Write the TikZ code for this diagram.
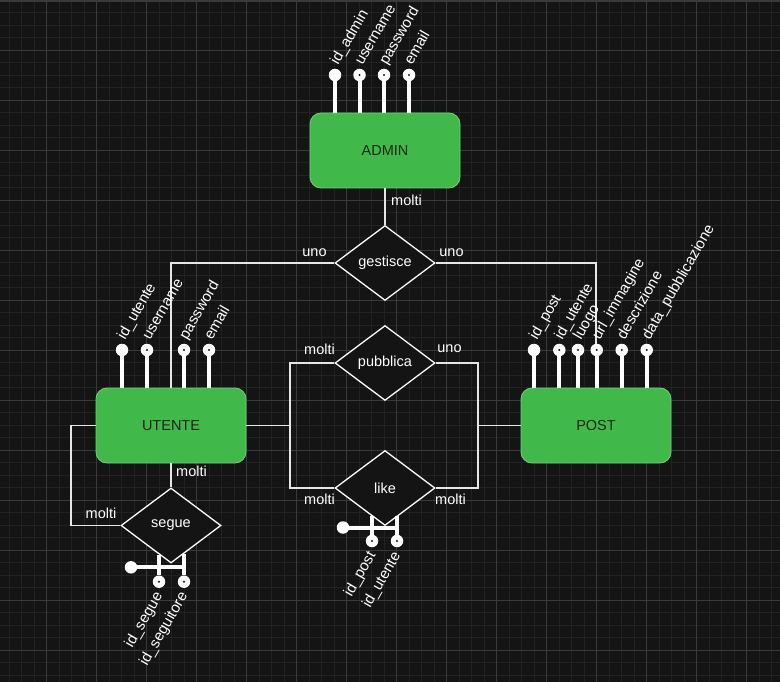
\documentclass[tikz,border=0pt]{standalone}
\usepackage{fontspec}
\setmainfont{Liberation Sans}
\usetikzlibrary{shapes.geometric}
\definecolor{bg}{HTML}{141414}
\definecolor{gminor}{HTML}{222222}
\definecolor{gmajor}{HTML}{3A3A3A}
\definecolor{entfill}{HTML}{41B94A}
\definecolor{entborder}{HTML}{74D07A}
\definecolor{enttext}{HTML}{142814}
\definecolor{conncol}{HTML}{E6E6E6}
\begin{document}
\begin{tikzpicture}[x=1pt,y=-1pt,
  entity/.style={draw=entborder, fill=entfill, rounded corners=11pt, minimum width=150pt, minimum height=75pt, inner sep=0pt, text=enttext, font=\fontsize{14.5}{17}\selectfont, line width=0.8pt},
  rel/.style={diamond, draw=white, fill=bg, line width=1.3pt, minimum width=100pt, minimum height=75pt, inner sep=0pt, text=white, font=\fontsize{14.5}{17}\selectfont},
  conn/.style={draw=conncol, line width=1.4pt},
  stem/.style={draw=white, line width=4pt},
  keyc/.style={circle, fill=white, minimum size=12.5pt, inner sep=0pt},
  attrc/.style={circle, fill=white, minimum size=12.5pt, inner sep=0pt, path picture={\fill[bg] (path picture bounding box.center) circle (1.1pt);}},
  card/.style={text=white, font=\fontsize{14.5}{17}\selectfont, inner sep=0pt},
  alab/.style={text=white, font=\fontsize{15}{17}\selectfont, inner sep=0pt, rotate=60, anchor=base west},
  blab/.style={text=white, font=\fontsize{15}{17}\selectfont, inner sep=0pt, rotate=60, anchor=base east}
]
% background and grid
\fill[bg] (0,0) rectangle (780,682);
\useasboundingbox (0,0) rectangle (780,682);
\foreach \i in {0,...,62} {
  \draw[gminor, line width=0.8pt] ({9.2+12.5*\i},0) -- ({9.2+12.5*\i},682);
}
\foreach \i in {0,...,55} {
  \draw[gminor, line width=0.8pt] (0,{12.5*\i}) -- (780,{12.5*\i});
}
\foreach \i in {0,...,15} {
  \draw[gmajor, line width=0.9pt] ({46.7+50*\i},0) -- ({46.7+50*\i},682);
}
\foreach \i in {1,...,13} {
  \draw[gmajor, line width=0.9pt] (0,{50*\i}) -- (780,{50*\i});
}
\fill[gmajor] (0,0) rectangle (780,2);

% relationships
\node[rel] (gestisce) at (385,263) {gestisce};
\node[rel] (pubblica) at (385,363) {pubblica};
\node[rel] (like) at (385,488) {like};
\node[rel] (segue) at (171,525.5) {segue};

% entities
\node[entity] (admin) at (385,150.5) {ADMIN};
\node[entity] (utente) at (171,425.5) {UTENTE};
\node[entity] (post) at (596,425.5) {POST};

% connectors
\coordinate (jl) at (290,425.5);
\coordinate (jr) at (478,425.5);
\coordinate (js) at (71,425.5);
\draw[conn] (admin.south) -- (gestisce.north);
\draw[conn] (gestisce.west) -| (utente.north);
\draw[conn] (gestisce.east) -| (post.north);
\draw[conn] (pubblica.west) -| (jl) |- (like.west);
\draw[conn] (utente.east) -- (jl);
\draw[conn] (pubblica.east) -| (jr) |- (like.east);
\draw[conn] (post.west) -- (jr);
\draw[conn] (utente.south) -- (segue.north);
\draw[conn] (segue.west) -| (js) -- (utente.west);

% cardinalities
\node[card, anchor=west] (c1) at (391,200) {molti};
\node[card] (c2) at (314.5,253) {uno};
\node[card] (c3) at (451.5,253) {uno};
\node[card] (c4) at (319.5,349) {molti};
\node[card] (c5) at (449.5,349) {uno};
\node[card] (c6) at (319.5,499.5) {molti};
\node[card] (c7) at (450.5,499.5) {molti};
\node[card] (c8) at (191.5,471.5) {molti};
\node[card] (c9) at (101,513) {molti};

% ADMIN attributes
\foreach \n/\x/\s/\t in {aa1/335/keyc/id\_admin, aa2/359.5/attrc/username, aa3/384/attrc/password, aa4/409/attrc/email} {
  \node[\s] (\n) at (\x,75) {};
  \draw[stem] (\n.south) -- (\n |- admin.north);
  \node[alab] (\n l) at (\x+3,66) {\t};
}
% UTENTE attributes
\foreach \n/\x/\s/\t in {ua1/122/keyc/id\_utente, ua2/147/attrc/username, ua3/184/attrc/password, ua4/209/attrc/email} {
  \node[\s] (\n) at (\x,350) {};
  \draw[stem] (\n.south) -- (\n |- utente.north);
  \node[alab] (\n l) at (\x+3,340.5) {\t};
}
% POST attributes
\foreach \n/\x/\s/\t in {pa1/534/keyc/id\_post, pa2/559.3/attrc/id\_utente, pa3/578/attrc/luogo, pa4/596.7/attrc/url\_immagine, pa5/621.7/attrc/descrizione, pa6/646.7/attrc/data\_pubblicazione} {
  \node[\s] (\n) at (\x,350) {};
  \draw[stem] (\n.south) -- (\n |- post.north);
  \node[alab] (\n l) at (\x+3,340.5) {\t};
}

% like composite key
\node[keyc] (lk0) at (343,527.5) {};
\node[attrc] (lk1) at (372,541) {};
\node[attrc] (lk2) at (397,541) {};
\draw[stem] (lk0.center) -- (lk0 -| lk2);
\draw[stem] (lk1.north) -- ++(0,-19);
\draw[stem] (lk2.north) -- ++(0,-19);
\node[blab] (lk1l) at (376,555) {id\_post};
\node[blab] (lk2l) at (401,555) {id\_utente};

% segue composite key
\node[keyc] (sk0) at (131,567.3) {};
\node[attrc] (sk1) at (159,581.7) {};
\node[attrc] (sk2) at (184,581.7) {};
\draw[stem] (sk0.center) -- (sk0 -| sk2);
\draw[stem] (sk1.north) -- ++(0,-20);
\draw[stem] (sk2.north) -- ++(0,-21);
\node[blab] (sk1l) at (163,595.5) {id\_segue};
\node[blab] (sk2l) at (188,595.5) {id\_seguitore};
\end{tikzpicture}
\end{document}
